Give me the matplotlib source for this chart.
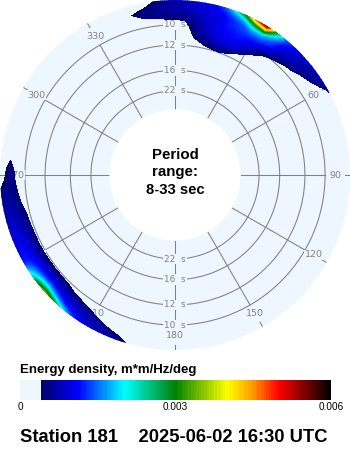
"""
Directional wave energy density, polar plot (radius is frequency, labelled in period)
"""
import numpy as np
import matplotlib
matplotlib.use('Agg')
import matplotlib.pyplot as plt
from matplotlib.colors import LinearSegmentedColormap, BoundaryNorm

plt.rcParams['font.family'] = ['Liberation Sans', 'DejaVu Sans']

# === DATA (energy in units of 1e-4 m*m/Hz/deg) ===
theta_ne = [-16, -12, -8, -4, 0, 4, 8, 12, 16, 20, 24, 28, 32, 36, 40, 44, 48, 52, 56, 60, 64]
period_ne = [12.6, 12.0, 11.4, 10.9, 10.4, 10.0, 9.6, 9.24, 8.9, 8.59, 8.29]
energy_ne = [
    [0, 0, 0, 0, 0, 0, 0, 1, 1, 1, 0, 0, 0, 0, 0, 0, 0, 0, 0, 0, 0],
    [0, 0, 0, 0, 0, 0, 1, 3, 3.5, 3.8, 2.8, 1, 0, 0, 0, 0, 0, 0, 0, 0, 0],
    [0, 0, 0, 0, 0, 0, 3, 4.5, 6, 6, 5, 3, 1, 0, 0, 0, 0, 0, 0, 0, 0],
    [0, 0, 0, 0, 0, 1, 4.5, 6, 8, 9, 9, 6, 3, 1, 0, 0, 0, 0, 0, 0, 0],
    [0, 0, 0, 0, 1, 2, 5.5, 7, 9, 10, 10, 9, 6, 3, 1, 0, 0, 0, 0, 0, 0],
    [0, 0, 1, 2, 2.5, 3, 6, 8, 10, 11, 11.5, 10.5, 8, 5, 3.5, 2.5, 1, 0, 0, 0, 0],
    [1, 2.5, 3, 3.5, 3.8, 4.2, 6.5, 8.5, 10, 11.5, 12, 12, 11, 9, 6, 4.5, 3.3, 2, 0, 0, 0],
    [2, 3.9, 5, 5.5, 5.5, 6, 7, 9, 10, 12, 13, 14, 14, 12, 8, 6.5, 6, 3.6, 2, 0, 0],
    [3.6, 5.5, 5.5, 6, 7, 7, 8, 9, 10, 12, 14, 18, 18, 14, 10, 8.5, 7, 6, 4, 2, 0],
    [3, 3, 5, 6, 7, 8, 9, 10, 11, 14, 18, 28, 33, 18, 11.5, 9, 7.5, 6.5, 7, 3, 1],
    [2, 2, 3.5, 6, 7, 8, 9, 10, 13, 19, 29, 46, 54, 26, 14, 11, 9, 8, 7, 5, 3],
]

theta_sw = [196, 200, 204, 208, 212, 216, 220, 224, 228, 232, 236, 240, 244, 248, 252, 256, 260, 264, 268, 272, 276]
period_sw = [10.4, 10.0, 9.6, 9.24, 8.9, 8.59, 8.29]
energy_sw = [
    [0, 0, 0, 0, 0, 0, 0, 0, 0, 0, 0, 0, 0, 0, 0, 0, 0, 0, 0, 0, 0],
    [0, 0, 0, 0, 0, 0, 2, 3, 3, 3, 3, 3, 3, 3, 3, 3, 2, 1, 0, 0, 0],
    [0, 0, 0, 0, 0, 3, 4, 5, 6, 6, 6, 5.5, 5.5, 5.5, 5, 4.5, 3.5, 3, 1, 0, 0],
    [0, 0, 0, 2, 4.5, 6, 7, 8, 9, 9, 9, 8, 8, 7.5, 7, 6, 5.5, 4.5, 4, 3.5, 2],
    [0, 0, 3, 5.5, 7, 8, 9, 11, 13, 13, 12, 11, 10, 9, 8, 7, 6.5, 5.5, 5.5, 5.5, 3.5],
    [1, 4, 6, 7.5, 8, 10, 12, 16, 21, 20, 16, 12, 11, 10, 9, 8, 7, 6, 4.2, 3.5, 1],
    [3.8, 6, 7, 8, 10, 13, 19, 28, 34, 30, 20, 12, 10, 9, 8, 7, 6, 4.5, 3, 2, 0],
]

ring_periods = [22, 16, 12, 10]
spoke_angles = [0, 30, 60, 90, 120, 150, 180, 210, 240, 270, 300, 330]

# === COLOURS ===
BG = '#EEF6FF'
GRAY = '#808080'
cmap_stops = [(0.0, '#00006E'), (0.125, '#0000FF'), (0.286, '#00FFFF'),
              (0.464, '#008000'), (0.643, '#FFFF00'), (0.732, '#FF9900'),
              (0.821, '#FF0000'), (1.0, '#000000')]
cmap = LinearSegmentedColormap.from_list('wave', cmap_stops, N=112)
levels = np.arange(4, 60.5, 0.5)
norm = BoundaryNorm(levels, cmap.N)

fig = plt.figure(figsize=(3.5, 4.5), dpi=100)

# === POLAR PANEL ===
ax = fig.add_axes([0, 100 / 450, 1, 350 / 450], projection='polar')
ax.set_theta_zero_location('N')
ax.set_theta_direction(-1)
ax.set_rorigin(-29 / 1211)
ax.set_facecolor(BG)
ax.grid(False)
ax.set_xticks([])
ax.set_yticks([])
for sp in ax.spines.values():
    sp.set_linewidth(0)
    sp.set_edgecolor('none')

f_outer = 146 / 1211
f_spoke = 1 / 10
f_label = 131 / 1211
f_tick = 141 / 1211

ring_t = np.radians(np.arange(0, 361, 1))
for p in ring_periods:
    ax.plot(ring_t, np.full(ring_t.shape, 1 / p), color=GRAY, lw=0.75, zorder=1)

for a in spoke_angles:
    t = np.radians(a)
    ax.plot([t, t], [1 / 33, f_spoke], color=GRAY, lw=0.75, zorder=1)
    ax.plot([t, t], [f_tick, f_outer], color=GRAY, lw=0.75, zorder=1)
    ax.text(t, f_label, str(a), color=GRAY, fontsize=6.8, family='DejaVu Sans',
            ha='center', va='center', zorder=1.5,
            bbox=dict(fc=BG, ec='none', pad=0.6))

for a in [0, 180]:
    for p in ring_periods:
        ax.text(np.radians(a), 1 / p, f'{p}  s', color=GRAY, fontsize=6.4,
                family='DejaVu Sans', ha='center', va='center', zorder=1.5,
                bbox=dict(fc=BG, ec='none', pad=0.6))

for th, per, en in [(theta_ne, period_ne, energy_ne), (theta_sw, period_sw, energy_sw)]:
    ax.contourf(np.radians(th), 1 / np.array(per), np.array(en), levels=levels,
                cmap=cmap, norm=norm, antialiased=False, zorder=2)
ax.set_rmin(1 / 33)
ax.set_rmax(f_outer)

# === CENTRE TEXT ===
fig.text(175 / 350, 1 - 155 / 450, 'Period', fontsize=10.8, fontweight='bold', ha='center', va='center')
fig.text(175 / 350, 1 - 172 / 450, 'range:', fontsize=10.8, fontweight='bold', ha='center', va='center')
fig.text(175 / 350, 1 - 190 / 450, '8-33 sec', fontsize=10.6, fontweight='bold', ha='center', va='center')

# === COLOUR BAR ===
cax = fig.add_axes([20 / 350, 1 - 400 / 450, 311 / 350, 20 / 450])
cax.set_xlim(0, 60)
cax.set_ylim(0, 1)
cax.axvspan(0, 4, color=BG, lw=0)
cax.pcolormesh(levels, [0, 1], ((levels[:-1] + levels[1:]) / 2)[None, :],
               cmap=cmap, norm=norm, antialiased=False)
cax.axis('off')

fig.text(20 / 350, 1 - 370 / 450, 'Energy density, m*m/Hz/deg', fontsize=9.5,
         fontweight='bold', ha='left', va='center')
for x, s in [(20, '0'), (175, '0.003'), (331, '0.006')]:
    fig.text(x / 350, 1 - 407 / 450, s, fontsize=7.2, ha='center', va='center')

fig.text(20 / 350, 1 - 438 / 450, 'Station 181    2025-06-02 16:30 UTC', fontsize=13.2,
         fontweight='bold', ha='left', va='center')

plt.savefig('out.png', dpi=100)
